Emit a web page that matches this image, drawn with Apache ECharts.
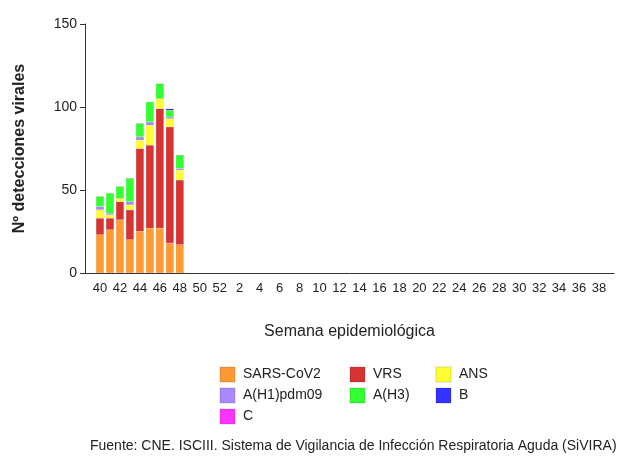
<!DOCTYPE html>
<html>
<head>
<meta charset="utf-8">
<script src="https://cdn.jsdelivr.net/npm/echarts@6/dist/echarts.min.js"></script>
<style>
  html, body { margin: 0; padding: 0; background: #fff; }
  #chart { width: 618px; height: 458px; }
</style>
</head>
<body>
<div id="chart"></div>
<script>
// ==================== DATA ====================
const weeks = [40, 41, 42, 43, 44, 45, 46, 47, 48, 49, 50, 51, 52,
  1, 2, 3, 4, 5, 6, 7, 8, 9, 10, 11, 12, 13, 14, 15, 16, 17, 18, 19, 20,
  21, 22, 23, 24, 25, 26, 27, 28, 29, 30, 31, 32, 33, 34, 35, 36, 37, 38, 39].map(String);

const sarsCov2 = [23, 26, 32, 20, 25, 27, 27, 18, 17];
const vrs      = [10, 7, 11, 18, 50, 50, 72, 70, 39];
const ans      = [5, 2, 2, 3, 5, 12, 6, 5, 6];
const h1pdm09  = [2, 1, 0, 2, 2, 2, 0, 1, 1];
const h3       = [6, 12, 7, 14, 8, 12, 9, 4, 8];
const virusC   = [0, 0, 0, 0, 0, 0, 0, 0, 0];
const virusB   = [0, 0, 0, 0, 0, 0, 0, 1, 0];

const yTicks = [0, 50, 100, 150];

// ==================== CHART ====================
const chart = echarts.init(document.getElementById('chart'));
const font = 'Liberation Sans, Arial, sans-serif';
const textC = '#222';

// leading blank slot keeps the first week off the y axis, as in the source
const axisCats = [''].concat(weeks);
const pad = arr => [null].concat(arr);

const mk = (name, data, color) => ({
  name, type: 'bar', stack: 'v', data: pad(data),
  barCategoryGap: '20%',
  itemStyle: { color, borderColor: 'rgba(0,0,0,0.08)', borderWidth: 0.5 }
});

const legendBase = {
  orient: 'vertical', icon: 'rect', itemWidth: 15, itemHeight: 15, itemGap: 4,
  textStyle: { fontFamily: font, fontSize: 14, color: textC, padding: [0, 0, 0, 3] },
  selectedMode: false, padding: 0
};

chart.setOption({
  backgroundColor: '#fff',
  animation: false,
  grid: { left: 85, right: 4, top: 24, bottom: 185 },
  xAxis: {
    type: 'category', data: axisCats,
    name: 'Semana epidemiológica', nameLocation: 'middle', nameGap: 51,
    nameTextStyle: { fontFamily: font, fontSize: 16, color: textC },
    axisLine: { lineStyle: { color: '#333', width: 1 } },
    axisTick: { alignWithLabel: true, length: 6, interval: (i) => i > 0, lineStyle: { color: '#333' } },
    axisLabel: { interval: (i) => i % 2 === 1, fontFamily: font, fontSize: 13, color: textC, margin: 9 }
  },
  yAxis: {
    type: 'value', min: yTicks[0], max: yTicks[yTicks.length - 1], interval: 50,
    name: 'Nº detecciones virales', nameLocation: 'middle', nameGap: 57,
    nameTextStyle: { fontFamily: font, fontSize: 16, fontWeight: 'bold', color: textC },
    axisLine: { show: true, lineStyle: { color: '#333', width: 1 } },
    axisTick: { show: true, length: 5, lineStyle: { color: '#333' } },
    axisLabel: { fontFamily: font, fontSize: 14, color: textC, margin: 8 },
    splitLine: { show: false }
  },
  legend: [
    Object.assign({}, legendBase, { left: 219, top: 366, data: ['SARS-CoV2', 'A(H1)pdm09', 'C'] }),
    Object.assign({}, legendBase, { left: 349, top: 366, data: ['VRS', 'A(H3)'] }),
    Object.assign({}, legendBase, { left: 435, top: 366, data: ['ANS', 'B'] })
  ],
  graphic: [{
    type: 'text', left: 90, top: 439,
    style: {
      text: 'Fuente: CNE. ISCIII. Sistema de Vigilancia de Infección Respiratoria Aguda (SiVIRA)',
      font: '14px ' + font, fill: textC
    }
  }],
  series: [
    mk('SARS-CoV2', sarsCov2, '#FF9933'),
    mk('VRS', vrs, '#D63333'),
    mk('ANS', ans, '#FFFF33'),
    mk('A(H1)pdm09', h1pdm09, '#AA88FF'),
    mk('A(H3)', h3, '#33FF33'),
    mk('C', virusC, '#FF33FF'),
    mk('B', virusB, '#3333FF')
  ]
});
</script>
</body>
</html>
